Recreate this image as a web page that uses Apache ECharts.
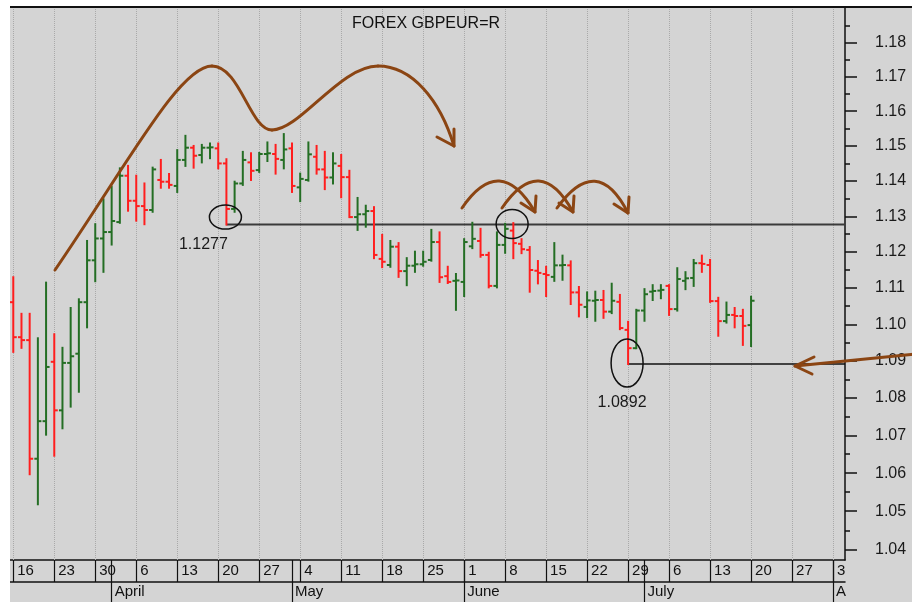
<!DOCTYPE html>
<html><head><meta charset="utf-8">
<script src="https://cdn.jsdelivr.net/npm/echarts@6/dist/echarts.min.js"></script>
<style>html,body{margin:0;padding:0;background:#fff}#c{width:916px;height:602px}</style>
</head><body><div id="c"></div>
<script>
// ---- data (trading-day index 0 = Mon 16 March) ----
var openP = [
1.1061,1.0965,1.0957,1.0638,1.0738,1.0898,1.0767,1.0895,1.0920,1.1061,
1.1177,1.1238,1.1256,1.1284,1.1415,1.1344,1.1329,1.1318,1.1403,1.1398,
1.1386,1.1460,1.1495,1.1474,1.1495,1.1493,1.1450,1.1321,1.1393,1.1453,
1.1431,1.1477,1.1477,1.1460,1.1493,1.1382,1.1403,1.1469,1.1433,1.1410,
1.1443,1.1411,1.1298,1.1306,1.1315,1.1181,1.1164,1.1215,1.1147,1.1162,
1.1166,1.1178,1.1228,1.1133,1.1120,1.1117,1.1216,1.1231,1.1192,1.1106,
1.1220,1.1260,1.1223,1.1206,1.1148,1.1139,1.1131,1.1163,1.1163,1.1088,
1.1048,1.1065,1.1067,1.1035,1.1062,1.0985,1.0935,1.1038,1.1090,1.1093,
1.1106,1.1042,1.1120,1.1128,1.1169,1.1164,1.1064,1.1009,1.1026,1.1023,
1.0998];
var highP = [
1.1130,1.1029,1.1029,1.0962,1.1115,1.0973,1.0936,1.1045,1.1069,1.1231,
1.1278,1.1348,1.1384,1.1436,1.1443,1.1415,1.1393,1.1438,1.1460,1.1420,
1.1488,1.1529,1.1500,1.1503,1.1507,1.1507,1.1462,1.1398,1.1483,1.1479,
1.1480,1.1510,1.1503,1.1534,1.1507,1.1421,1.1510,1.1500,1.1483,1.1479,
1.1474,1.1429,1.1352,1.1330,1.1326,1.1248,1.1231,1.1225,1.1183,1.1201,
1.1201,1.1262,1.1255,1.1159,1.1139,1.1236,1.1282,1.1265,1.1198,1.1255,
1.1279,1.1281,1.1236,1.1214,1.1175,1.1159,1.1225,1.1190,1.1174,1.1103,
1.1088,1.1090,1.1092,1.1112,1.1081,1.1007,1.1040,1.1097,1.1108,1.1108,
1.1108,1.1155,1.1144,1.1178,1.1190,1.1178,1.1073,1.1060,1.1045,1.1040,
1.1076];
var lowP = [
1.0925,1.0936,1.0597,1.0518,1.0702,1.0646,1.0719,1.0777,1.0817,1.0992,
1.1119,1.1145,1.1221,1.1282,1.1316,1.1288,1.1278,1.1313,1.1381,1.1381,
1.1369,1.1443,1.1438,1.1453,1.1465,1.1436,1.1277,1.1313,1.1389,1.1403,
1.1426,1.1457,1.1421,1.1436,1.1369,1.1343,1.1401,1.1421,1.1377,1.1393,
1.1354,1.1298,1.1262,1.1271,1.1183,1.1158,1.1159,1.1131,1.1108,1.1145,
1.1162,1.1176,1.1117,1.1114,1.1040,1.1078,1.1211,1.1187,1.1102,1.1102,
1.1198,1.1183,1.1197,1.1090,1.1113,1.1078,1.1120,1.1123,1.1056,1.1022,
1.1020,1.1010,1.1018,1.1031,1.0987,1.0892,1.0935,1.1010,1.1067,1.1072,
1.1026,1.1038,1.1097,1.1106,1.1145,1.1062,1.0969,1.1005,1.0992,1.0944,
1.0941];
var closeP = [
1.0965,1.0957,1.0638,1.0738,1.0884,1.0767,1.0895,1.0913,1.1061,1.1177,
1.1238,1.1256,1.1287,1.1415,1.1344,1.1329,1.1318,1.1433,1.1398,1.1389,
1.1460,1.1495,1.1472,1.1495,1.1496,1.1450,1.1321,1.1393,1.1460,1.1429,
1.1477,1.1479,1.1463,1.1490,1.1386,1.1406,1.1476,1.1433,1.1410,1.1450,
1.1411,1.1298,1.1306,1.1315,1.1192,1.1173,1.1215,1.1147,1.1162,1.1166,
1.1173,1.1228,1.1130,1.1117,1.1121,1.1228,1.1237,1.1192,1.1106,1.1220,
1.1265,1.1225,1.1208,1.1150,1.1142,1.1136,1.1163,1.1164,1.1088,1.1054,
1.1066,1.1067,1.1035,1.1065,1.0990,1.0935,1.1038,1.1083,1.1092,1.1095,
1.1042,1.1125,1.1127,1.1169,1.1167,1.1064,1.1009,1.1026,1.1023,1.0996,
1.1065];
var mondayIdx = [0,5,10,15,20,25,30,35,40,45,50,55,60,65,70,75,80,85,90,95,100];
var dayLabels = ['16','23','30','6','13','20','27','4','11','18','25','1','8','15','22','29','6','13','20','27','3'];
var monthIdx = [12,34,55,77,100];
var monthLabels = ['April','May','June','July','A'];
var majorTicks = [1.04,1.05,1.06,1.07,1.08,1.09,1.10,1.11,1.12,1.13,1.14,1.15,1.16,1.17,1.18];
var minorTicks = [1.045,1.055,1.065,1.075,1.085,1.095,1.105,1.115,1.125,1.135,1.145,1.155,1.165,1.175,1.185];
var level1 = 1.1277, level1Idx = 26;
var level2 = 1.0892, level2Idx = 75;
var titleText = 'FOREX GBPEUR=R';

// ---- chart ----
var LN = Math.log;
var yMin = LN(1.0373), yMax = LN(1.1905), xMin = -0.4, xMax = 101.46;
var GREEN = '#246e24', RED = '#ff1e1e', BROWN = '#8b4513';
var FONT = '"Liberation Sans", Arial, sans-serif';

var bars = openP.map(function (o, i) {
  return [i, LN(o), LN(highP[i]), LN(lowP[i]), LN(closeP[i])];
});

var chart = echarts.init(document.getElementById('c'), null, {renderer: 'canvas'});

function renderBar(params, api) {
  var x = api.value(0), o = api.value(1), h = api.value(2), l = api.value(3), c = api.value(4);
  var pH = api.coord([x, h]), pL = api.coord([x, l]), pO = api.coord([x, o]), pC = api.coord([x, c]);
  var col = c >= o ? GREEN : RED;
  var st = {stroke: col, lineWidth: 2};
  var t = 3.5;
  return {type: 'group', children: [
    {type: 'line', shape: {x1: pH[0], y1: pH[1] - 1, x2: pL[0], y2: pL[1] + 1}, style: st},
    {type: 'line', shape: {x1: pO[0] - t, y1: pO[1], x2: pO[0], y2: pO[1]}, style: st},
    {type: 'line', shape: {x1: pC[0], y1: pC[1], x2: pC[0] + t, y2: pC[1]}, style: st}
  ]};
}

var option = {
  backgroundColor: '#d4d4d4',
  animation: false,
  title: {text: titleText, left: 347, top: 11,
    textStyle: {fontSize: 16, fontWeight: 'normal', color: '#111', fontFamily: FONT}},
  grid: [
    {left: 10, right: 71, top: 7, bottom: 42},
    {left: 10, right: 71, top: 560, height: 22},
    {left: 10, right: 71, top: 582, height: 20}
  ],
  xAxis: [
    {type: 'value', gridIndex: 0, min: xMin, max: xMax, position: 'bottom',
      axisLine: {show: true, onZero: false, lineStyle: {color: '#111', width: 1.5}},
      axisTick: {show: true, customValues: mondayIdx, inside: true, length: 553,
        lineStyle: {color: '#a9a9a9', width: 1, type: 'dotted'}},
      axisLabel: {show: false}, splitLine: {show: false}},
    {type: 'value', gridIndex: 1, min: xMin, max: xMax, position: 'bottom',
      axisLine: {show: true, onZero: false, lineStyle: {color: '#111', width: 1.5}},
      axisTick: {show: true, customValues: mondayIdx, inside: true, length: 22,
        lineStyle: {color: '#111', width: 1.2}},
      axisLabel: {show: true, customValues: mondayIdx, inside: true, margin: 11,
        align: 'left', verticalAlign: 'middle', padding: [0, 0, 0, 4],
        fontSize: 15, color: '#111', fontFamily: FONT,
        formatter: function (v) { var k = mondayIdx.indexOf(Math.round(v)); return k >= 0 ? dayLabels[k] : ''; }},
      splitLine: {show: false}},
    {type: 'value', gridIndex: 2, min: xMin, max: xMax, position: 'bottom',
      axisLine: {show: false, onZero: false},
      axisTick: {show: true, customValues: monthIdx, inside: true, length: 42,
        lineStyle: {color: '#111', width: 1.2}},
      axisLabel: {show: true, customValues: monthIdx, inside: true, margin: 10,
        align: 'left', verticalAlign: 'middle', padding: [0, 0, 0, 3],
        fontSize: 15, color: '#111', fontFamily: FONT,
        formatter: function (v) { var k = monthIdx.indexOf(Math.round(v)); return k >= 0 ? monthLabels[k] : ''; }},
      splitLine: {show: false}}
  ],
  yAxis: [
    {type: 'value', gridIndex: 0, position: 'right', min: yMin, max: yMax,
      axisLine: {show: true, onZero: false, lineStyle: {color: '#111', width: 1.5}},
      axisTick: {show: true, customValues: majorTicks.map(LN), length: 12, lineStyle: {color: '#111', width: 1.5}},
      axisLabel: {show: true, customValues: majorTicks.map(LN), margin: 30, fontSize: 16, color: '#1a1a1a', fontFamily: FONT,
        formatter: function (v) { return Math.exp(v).toFixed(2); }},
      splitLine: {show: false}},
    {type: 'value', gridIndex: 0, position: 'left', offset: -835, min: yMin, max: yMax,
      axisLine: {show: false, onZero: false},
      axisTick: {show: true, customValues: minorTicks.map(LN), inside: true, length: 5, lineStyle: {color: '#111', width: 1.5}},
      axisLabel: {show: false}, splitLine: {show: false}},
    {type: 'value', gridIndex: 1, show: false, axisLine: {onZero: false}},
    {type: 'value', gridIndex: 2, show: false, axisLine: {onZero: false}}
  ],
  series: [
    {type: 'line', xAxisIndex: 0, yAxisIndex: 0, symbol: 'none', silent: true, z: 1,
      data: [[level1Idx, LN(level1)], [xMax, LN(level1)]],
      lineStyle: {color: '#3a3a3a', width: 2}},
    {type: 'line', xAxisIndex: 0, yAxisIndex: 0, symbol: 'none', silent: true, z: 1,
      data: [[level2Idx, LN(level2)], [xMax, LN(level2)]],
      lineStyle: {color: '#111', width: 1.5}},
    {type: 'custom', xAxisIndex: 0, yAxisIndex: 0, renderItem: renderBar,
      encode: {x: 0, y: [1, 2, 3, 4]}, data: bars, z: 3}
  ]
};
chart.setOption(option);

function px(i, p) { return chart.convertToPixel({xAxisIndex: 0, yAxisIndex: 0}, [i, LN(p)]); }
var a1 = px(level1Idx, level1), a2 = px(60, level1), a3 = px(level2Idx, level2);

var bStyle = {stroke: BROWN, lineWidth: 3, fill: null, lineCap: 'round', lineJoin: 'round'};
function arrowHead(tx, ty, ax, ay, bx, by) {
  return {type: 'polyline', shape: {points: [[ax, ay], [tx, ty], [bx, by]]}, style: bStyle, z: 50};
}
function cubic(x1, y1, c1x, c1y, c2x, c2y, x2, y2) {
  return {type: 'bezierCurve', shape: {x1: x1, y1: y1, cpx1: c1x, cpy1: c1y, cpx2: c2x, cpy2: c2y, x2: x2, y2: y2}, style: bStyle, z: 50};
}
function quad(x1, y1, cx, cy, x2, y2) {
  return {type: 'bezierCurve', shape: {x1: x1, y1: y1, cpx1: cx, cpy1: cy, x2: x2, y2: y2}, style: bStyle, z: 50};
}
function label(x, y, t) {
  return {type: 'text', x: x, y: y, z: 50,
    style: {text: t, fill: '#1a1a1a', font: '16px ' + FONT, align: 'center', verticalAlign: 'middle',
      textAlign: 'center', textVerticalAlign: 'middle'}};
}

function safe(els) { try { chart.setOption({graphic: els}); } catch (e) { console.log(e && e.message); } }

safe([
  {id: 'w1', type: 'rect', shape: {x: 0, y: 0, width: 10, height: 602}, style: {fill: '#fff'}, z: 60},
  {id: 'w2', type: 'rect', shape: {x: 0, y: 0, width: 916, height: 6}, style: {fill: '#fff'}, z: 60},
  {id: 'w3', type: 'rect', shape: {x: 912, y: 0, width: 4, height: 602}, style: {fill: '#fff'}, z: 60},
  {id: 'tl', type: 'line', shape: {x1: 10, y1: 7, x2: 912, y2: 7}, style: {stroke: '#111', lineWidth: 2}, z: 61}
]);
var brownEls = [
  cubic(55, 270, 130, 160, 180, 66, 212, 66),
  cubic(212, 66, 240, 66, 250, 130, 272, 130),
  cubic(272, 130, 300, 130, 340, 66, 378, 66),
  cubic(378, 66, 412, 66, 440, 100, 454, 146),
  arrowHead(454, 146, 437, 137, 454, 129),
  quad(462, 208, 500, 152, 535, 212),
  arrowHead(535, 212, 521, 203, 536, 196),
  quad(502, 208, 540, 152, 573, 212),
  arrowHead(573, 212, 559, 203, 574, 196),
  quad(557, 208, 597, 152, 628, 213),
  arrowHead(628, 213, 614, 204, 629, 197),
  {type: 'line', shape: {x1: 916, y1: 354, x2: 795, y2: 366}, style: bStyle, z: 50},
  arrowHead(795, 366, 814, 357, 812, 374),
  label(a1[0] - 23, a1[1] + 20, '1.1277'),
  label(a3[0] - 6, a3[1] + 39, '1.0892')
];
brownEls.forEach(function (el, i) { el.id = 'b' + i; });
safe(brownEls);

function ellipses(useEllipse) {
  var spec = [[a1[0] - 1, a1[1] - 7.5, 16, 12], [a2[0] + 7, a2[1] - 0.5, 16, 14.5], [a3[0] - 1, a3[1] - 1, 16, 24]];
  return spec.map(function (s, i) {
    if (useEllipse) {
      return {id: 'e' + i, type: 'ellipse', shape: {cx: s[0], cy: s[1], rx: s[2], ry: s[3]},
        style: {stroke: '#111', lineWidth: 1.5, fill: null}, z: 50};
    }
    return {id: 'e' + i, type: 'circle', x: s[0], y: s[1], scaleX: 1, scaleY: s[3] / s[2],
      shape: {cx: 0, cy: 0, r: s[2]}, style: {stroke: '#111', lineWidth: 1.5, fill: null, strokeNoScale: true}, z: 50};
  });
}
try { chart.setOption({graphic: ellipses(true)}); } catch (e) { safe(ellipses(false)); }
</script></body></html>
